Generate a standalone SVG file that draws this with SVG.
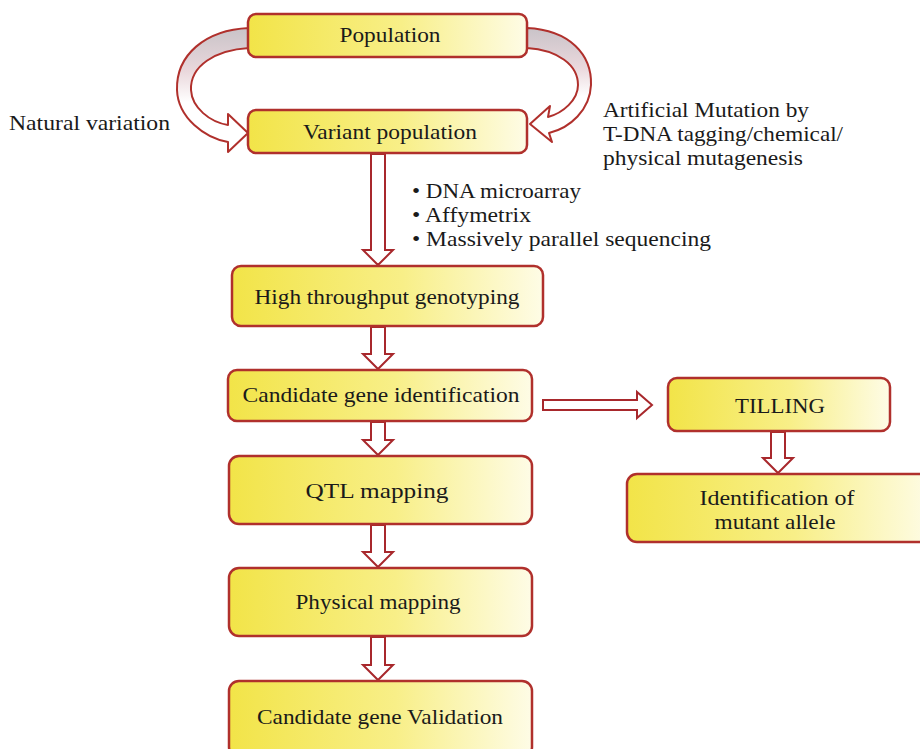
<svg xmlns="http://www.w3.org/2000/svg" width="920" height="749" viewBox="0 0 920 749">
<defs>
<linearGradient id="yel" x1="0" y1="0" x2="1" y2="0">
<stop offset="0" stop-color="#f2e448"/>
<stop offset="0.55" stop-color="#f8ef88"/>
<stop offset="1" stop-color="#fefce6"/>
</linearGradient>
<linearGradient id="band" x1="0" y1="0" x2="0" y2="1">
<stop offset="0" stop-color="#c9c3c8"/>
<stop offset="0.35" stop-color="#ead8dc"/>
<stop offset="0.6" stop-color="#ffffff"/>
<stop offset="1" stop-color="#ffffff"/>
</linearGradient>
</defs>
<style>
.box{fill:url(#yel);stroke:#b0302c;stroke-width:2.5}
.t{font-family:"Liberation Serif","Times New Roman",serif;font-size:22px;fill:#1a1a1a}
.c{text-anchor:middle}
.arr{fill:#ffffff;stroke:#a8282c;stroke-width:2;stroke-linejoin:miter}
.curve{fill:url(#band);stroke:#b0302c;stroke-width:2;stroke-linejoin:round}
</style>
<rect width="920" height="749" fill="#ffffff"/>

<g id="connectors">
<path class="curve" d="M 249 28 C 205 30 176 55 177 90 C 178 118 205 138 228 142 L 228 152 L 248 133 L 228 114 L 228 125 C 210 122 192 108 191 90 C 190 66 215 50 249 48 Z"/>
<path class="curve" d="M 527 28 C 570 30 592 55 591 85 C 590 110 570 128 549 133 L 552 142 L 530 124 L 550 106 L 548 117 C 563 113 578 100 578 85 C 578 65 558 50 527 48 Z"/>
<path class="arr" d="M 371 154 L 371 250 L 363 250 L 378 265 L 393 250 L 385 250 L 385 154 Z"/>
<path class="arr" d="M 371 327 L 371 354 L 363 354 L 378 369 L 393 354 L 385 354 L 385 327 Z"/>
<path class="arr" d="M 371 422 L 371 440 L 363 440 L 378 455 L 393 440 L 385 440 L 385 422 Z"/>
<path class="arr" d="M 371 525 L 371 552 L 363 552 L 378 567 L 393 552 L 385 552 L 385 525 Z"/>
<path class="arr" d="M 371 637 L 371 665 L 363 665 L 378 680 L 393 665 L 385 665 L 385 637 Z"/>
<path class="arr" d="M 771 432 L 771 458 L 763 458 L 778 473 L 793 458 L 785 458 L 785 432 Z"/>
<path class="arr" d="M 543 400 L 637 400 L 637 392 L 652 405 L 637 418 L 637 410 L 543 410 Z"/>
</g>

<g id="population">
<rect class="box" x="248" y="14" width="279" height="43" rx="8"/>
<text class="t c" x="390" y="42" textLength="101" lengthAdjust="spacingAndGlyphs">Population</text>
</g>
<g id="variant">
<rect class="box" x="248" y="110" width="279" height="43" rx="8"/>
<text class="t c" x="390" y="139" textLength="174" lengthAdjust="spacingAndGlyphs">Variant population</text>
</g>
<g id="genotyping">
<rect class="box" x="232" y="266" width="311" height="60" rx="9"/>
<text class="t c" x="387" y="304" textLength="265" lengthAdjust="spacingAndGlyphs">High throughput genotyping</text>
</g>
<g id="candidate">
<rect class="box" x="228" y="370" width="304" height="51" rx="9"/>
<text class="t c" x="381" y="402" textLength="277" lengthAdjust="spacingAndGlyphs">Candidate gene identification</text>
</g>
<g id="qtl">
<rect class="box" x="229" y="456" width="303" height="68" rx="10"/>
<text class="t c" x="377" y="498" textLength="143" lengthAdjust="spacingAndGlyphs">QTL mapping</text>
</g>
<g id="physical">
<rect class="box" x="229" y="568" width="303" height="68" rx="10"/>
<text class="t c" x="378" y="609" textLength="165" lengthAdjust="spacingAndGlyphs">Physical mapping</text>
</g>
<g id="validation">
<rect class="box" x="229" y="681" width="303" height="76" rx="10"/>
<text class="t c" x="380" y="724" textLength="246" lengthAdjust="spacingAndGlyphs">Candidate gene Validation</text>
</g>
<g id="tilling">
<rect class="box" x="668" y="378" width="222" height="53" rx="9"/>
<text class="t c" x="780" y="413" textLength="90" lengthAdjust="spacingAndGlyphs">TILLING</text>
</g>
<g id="mutant">
<rect class="box" x="627" y="474" width="305" height="68" rx="10"/>
<text class="t c" x="777" y="505" textLength="155" lengthAdjust="spacingAndGlyphs">Identification of</text>
<text class="t c" x="775" y="529" textLength="121" lengthAdjust="spacingAndGlyphs">mutant allele</text>
</g>

<g id="labels">
<text class="t" x="9" y="130" textLength="161" lengthAdjust="spacingAndGlyphs">Natural variation</text>
<text class="t" x="603" y="117" textLength="206" lengthAdjust="spacingAndGlyphs">Artificial Mutation by</text>
<text class="t" x="603" y="141" textLength="240" lengthAdjust="spacingAndGlyphs">T-DNA tagging/chemical/</text>
<text class="t" x="603" y="165" textLength="200" lengthAdjust="spacingAndGlyphs">physical mutagenesis</text>
<text class="t" x="412" y="198" textLength="169" lengthAdjust="spacingAndGlyphs">• DNA microarray</text>
<text class="t" x="412" y="222" textLength="119" lengthAdjust="spacingAndGlyphs">• Affymetrix</text>
<text class="t" x="412" y="246" textLength="299" lengthAdjust="spacingAndGlyphs">• Massively parallel sequencing</text>
</g>
</svg>
